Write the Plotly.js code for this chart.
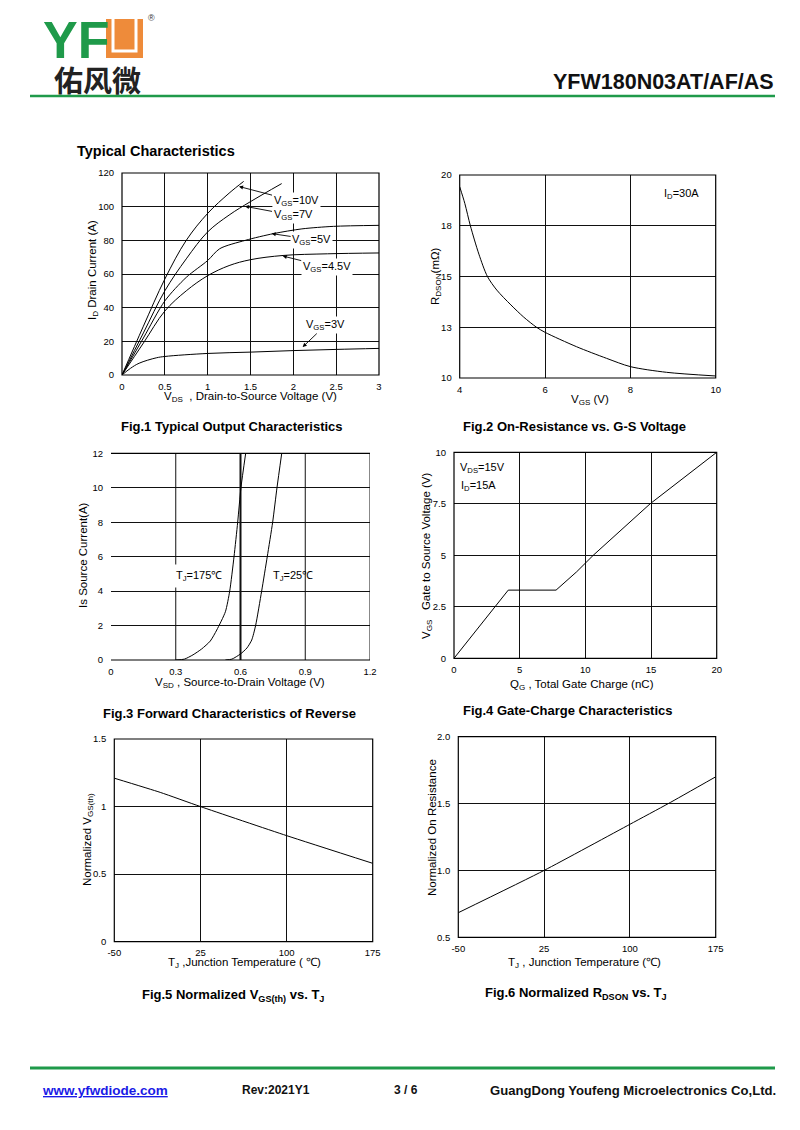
<!DOCTYPE html>
<html><head><meta charset="utf-8">
<script src="https://cdn.plot.ly/plotly-3.0.1.min.js"></script>
<style>html,body{margin:0;padding:0;background:#fff}#p{width:800px;height:1130px}</style>
</head><body><div id="p"></div>
<script>
// ---------- DATA ----------
// Fig.1 Output characteristics (VDS V, ID A)
const f1_v10_x=[0,0.25,0.5,0.75,1.0,1.25,1.42];
const f1_v10_y=[0,29,57,80,96,108,115];
const f1_v7_x=[0,0.25,0.5,0.75,1.0,1.25,1.5,1.864];
const f1_v7_y=[0,25,50,69,85,95,103,113.7];
const f1_v5_x=[0,0.25,0.5,0.75,1.0,1.14,1.44,1.77,2.1,2.47,3.0];
const f1_v5_y=[0,22,44,58,68,75,80,84,86.8,88.3,88.9];
const f1_v45_x=[0,0.25,0.5,0.75,1.0,1.25,1.5,1.88,2.4,3.0];
const f1_v45_y=[0,19,38,50,59,65,68.5,71,72,72.5];
const f1_v3_x=[0,0.1,0.2,0.4,0.5,1.0,1.5,2.0,2.5,3.0];
const f1_v3_y=[0,4,7,10.2,11,12.8,13.6,14.5,15.2,15.8];
const f1_xticks=[0,0.5,1,1.5,2,2.5,3];
const f1_yticks=[0,20,40,60,80,100,120];
// Fig.2 RDSON vs VGS (ID=30A)
const f2_x=[4,4.12,4.25,4.45,4.65,4.87,5.2,5.5,5.8,6,6.74,7.44,8,8.85,10];
const f2_y=[19.42,18.6,17.5,16.1,15,14.33,13.6,13.0,12.5,12.25,11.54,10.97,10.56,10.28,10.1];
const f2_xticks=[4,6,8,10];
const f2_yticks=[10,12.5,15,17.5,20];
const f2_ytext=['10','13','15','18','20'];
// Fig.3 Body diode forward characteristics
const f3_t175_x=[0.30,0.34,0.38,0.42,0.46,0.49,0.53,0.55,0.57,0.587,0.602,0.624];
const f3_t175_y=[0,0.05,0.3,0.64,1.1,1.74,2.8,4.0,6.0,8.0,10.0,12.0];
const f3_t25_x=[0.53,0.56,0.60,0.63,0.652,0.67,0.698,0.724,0.749,0.769,0.791];
const f3_t25_y=[0,0.05,0.35,0.7,1.16,2.0,4.0,6.0,8.0,10.0,12.0];
const f3_xticks=[0,0.3,0.6,0.9,1.2];
const f3_yticks=[0,2,4,6,8,10,12];
// Fig.4 Gate charge
const f4_x=[0,4.13,7.77,9.34,10.6,14.93,20];
const f4_y=[0,3.31,3.31,4.2,5,7.5,10];
const f4_xticks=[0,5,10,15,20];
const f4_yticks=[0,2.5,5,7.5,10];
// Fig.5 Normalized VGS(th) vs TJ
const f5_x=[-50,-10,25,100,175];
const f5_y=[1.21,1.105,1.0,0.785,0.58];
const f5_yticks=[0,0.5,1,1.5];
// Fig.6 Normalized RDSON vs TJ
const f6_x=[-50,25,100,133.6,175];
const f6_y=[0.684,1.0,1.345,1.5,1.70];
const f6_yticks=[0.5,1.0,1.5,2.0];
const tj_ticks=[-50,25,100,175];

// ---------- LAYOUT HELPERS ----------
const W=800,H=1130;
const fx=p=>p/W, fy=p=>1-p/H;
const FONT='Liberation Sans, Arial, sans-serif';
const tickF={family:FONT,size:9.5,color:'#000'};
function dom(x0,x1,y0,y1){return {x:[fx(x0),fx(x1)],y:[fy(y1),fy(y0)]};}
const D1=dom(122,379,173,375), D2=dom(459.7,715.7,175,378), D3=dom(111,370,453.3,660),
      D4=dom(454,716.7,452.3,658.3), D5=dom(114.3,372.7,739,941.7), D6=dom(458.3,715.7,736.7,937.3);
function xa(d,anchor,range,tv,tt,grid){return {domain:d.x,anchor:anchor,range:range,tickvals:tv,ticktext:tt,
  showgrid:grid!==false,gridcolor:'#111',gridwidth:1,zeroline:false,showline:false,ticks:'',
  tickfont:tickF,ticklabelstandoff:4,fixedrange:true};}
function ya(d,anchor,range,tv,tt){return {domain:d.y,anchor:anchor,range:range,tickvals:tv,ticktext:tt,
  showgrid:true,gridcolor:'#111',gridwidth:1,zeroline:false,showline:false,ticks:'',
  tickfont:tickF,ticklabelstandoff:7,fixedrange:true};}
function tr(x,y,xa_,ya_,smooth){return {x:x,y:y,xaxis:xa_,yaxis:ya_,mode:'lines',
  line:smooth?{color:'#000',width:1,shape:'spline',smoothing:smooth}:{color:'#000',width:1},
  hoverinfo:'skip',showlegend:false};}

const data=[
  tr(f1_v10_x,f1_v10_y,'x','y',1), tr(f1_v7_x,f1_v7_y,'x','y',1), tr(f1_v5_x,f1_v5_y,'x','y',0.8),
  tr(f1_v45_x,f1_v45_y,'x','y',1), tr(f1_v3_x,f1_v3_y,'x','y',1),
  tr(f2_x,f2_y,'x2','y2',0.8),
  tr(f3_t175_x,f3_t175_y,'x3','y3',0.6), tr(f3_t25_x,f3_t25_y,'x3','y3',0.6),
  tr(f4_x,f4_y,'x4','y4',0),
  tr(f5_x,f5_y,'x5','y5',0.5),
  tr(f6_x,f6_y,'x6','y6',0.5)
];

const shapes=[];
function frame(xr,yr){shapes.push({type:'rect',xref:xr+' domain',yref:yr+' domain',x0:0,x1:1,y0:0,y1:1,line:{color:'#000',width:1.2},layer:'above'});}
frame('x','y');frame('x2','y2');frame('x4','y4');frame('x5','y5');frame('x6','y6');
// Fig.3: top, bottom, right only (no left border)
shapes.push({type:'line',xref:'x3 domain',yref:'y3 domain',x0:0,x1:1,y0:1,y1:1,line:{color:'#000',width:1.2}});
shapes.push({type:'line',xref:'x3 domain',yref:'y3 domain',x0:0,x1:1,y0:0,y1:0,line:{color:'#000',width:1.2}});
f3_xticks.filter(v=>v>0).forEach(v=>shapes.push({type:'line',xref:'x3',yref:'y3 domain',x0:v,x1:v,y0:0,y1:1,line:{color:'#111',width:v===0.6?2:1},layer:'below'}));
// header / footer green rules
const GREEN='#1f9a4a', ORANGE='#ee8b3a';
shapes.push({type:'line',xref:'paper',yref:'paper',x0:fx(30),x1:fx(775),y0:fy(96),y1:fy(96),line:{color:GREEN,width:2.5}});
shapes.push({type:'line',xref:'paper',yref:'paper',x0:fx(30),x1:fx(775),y0:fy(1068),y1:fy(1068),line:{color:GREEN,width:3}});
// logo "U" block
shapes.push({type:'rect',xref:'paper',yref:'paper',x0:fx(106),x1:fx(143),y0:fy(58),y1:fy(19),fillcolor:ORANGE,line:{width:0}});
shapes.push({type:'path',xref:'paper',yref:'paper',
  path:`M ${fx(113)},${fy(19)} L ${fx(113)},${fy(51)} L ${fx(136)},${fy(51)} L ${fx(136)},${fy(19)}`,
  line:{color:'#fff',width:3}});

const ann=[];
function T(text,x,y,o){ann.push(Object.assign({text:text,xref:'paper',yref:'paper',x:fx(x),y:fy(y),showarrow:false,
  xanchor:'center',yanchor:'middle',font:{family:FONT,size:11,color:'#000'}},o||{}));}
// logo & header
T('YF',41,40,{xanchor:'left',height:42,valign:'middle',font:{family:FONT,size:52,color:GREEN,weight:'bold'}});
T('®',151,18,{font:{family:FONT,size:9,color:'#333'}});
T('佑风微',97,79,{height:34,valign:'middle',font:{family:'Noto Sans CJK SC',size:29,color:'#222',weight:'bold'}});
T('<b>YFW180N03AT/AF/AS</b>',776,82,{xanchor:'right',font:{family:FONT,size:21.5,color:'#111'}});
T('<b>Typical Characteristics</b>',75,151,{xanchor:'left',font:{family:FONT,size:14.5,color:'#000'}});
// captions
const CAP={family:FONT,size:13};
T('<b>Fig.1 Typical Output Characteristics</b>',232,426.5,{font:CAP});
T('<b>Fig.2 On-Resistance vs. G-S Voltage</b>',574,426.5,{font:CAP});
T('<b>Fig.3 Forward Characteristics of Reverse</b>',230,713,{font:CAP});
T('<b>Fig.4 Gate-Charge Characteristics</b>',568,710,{font:CAP});
T('<b>Fig.5 Normalized V<sub>GS(th)</sub> vs. T<sub>J</sub></b>',233,995,{font:CAP});
T('<b>Fig.6 Normalized R<sub>DSON</sub> vs. T<sub>J</sub></b>',576,993,{font:CAP});
// axis titles
const AX={family:FONT,size:11.5};
T('V<sub>DS</sub>  , Drain-to-Source Voltage (V)',251,397,{font:AX});
T('I<sub>D</sub> Drain Current (A)',93,270,{textangle:-90,font:AX});
T('V<sub>GS</sub> (V)',590,400,{font:AX});
T('R<sub>DSON</sub>(mΩ)',436,276,{textangle:-90,font:AX});
T('V<sub>SD</sub> , Source-to-Drain Voltage (V)',240,682.5,{font:AX});
T('Is Source Current(A)',83,555,{textangle:-90,font:AX});
T('Q<sub>G</sub> , Total Gate Charge (nC)',582,685,{font:AX});
T('V<sub>GS</sub>   Gate to Source Voltage (V)',427,555,{textangle:-90,font:AX});
T('T<sub>J</sub> ,Junction Temperature ( ℃)',244,963,{font:AX});
T('Normalized V<sub>GS(th)</sub>',88,840,{textangle:-90,font:AX});
T('T<sub>J</sub> , Junction Temperature (℃)',584,963,{font:AX});
T('Normalized On Resistance',432,828,{textangle:-90,font:AX});
// in-plot labels
T('I<sub>D</sub>=30A',681,194,{font:{family:FONT,size:11}});
T('V<sub>DS</sub>=15V',482,468,{font:{family:FONT,size:11}});
T('I<sub>D</sub>=15A',478,486,{font:{family:FONT,size:11}});
T('T<sub>J</sub>=175℃',199,576,{font:{family:FONT,size:11},bgcolor:'#fff',borderpad:4});
T('T<sub>J</sub>=25℃',293,576,{font:{family:FONT,size:11}});
// fig1 arrow labels
function A(text,x,y,ax,ay){ann.push({text:text,xref:'x',yref:'y',x:x,y:y,ax:ax,ay:ay,showarrow:true,arrowhead:2,
  arrowsize:0.9,arrowwidth:0.9,arrowcolor:'#000',standoff:0,bgcolor:'#fff',font:{family:FONT,size:11,color:'#000'}});}
A('V<sub>GS</sub>=10V',1.366,112,57,15);
A('V<sub>GS</sub>=7V',1.436,100.2,48,9);
A('V<sub>GS</sub>=5V',1.747,84,40,6);
A('V<sub>GS</sub>=4.5V',1.876,70.7,44,11);
A('V<sub>GS</sub>=3V',2.109,16.6,23,-22);
// footer
T('<b><u>www.yfwdiode.com</u></b>',40,1090,{xanchor:'left',font:{family:FONT,size:13.5,color:'#1a1ae6'}});
T('<b>Rev:2021Y1</b>',240,1090,{xanchor:'left',font:{family:FONT,size:12,color:'#111'}});
T('<b>3 / 6</b>',392,1090,{xanchor:'left',font:{family:FONT,size:12,color:'#111'}});
T('<b>GuangDong Youfeng Microelectronics Co,Ltd.</b>',488,1090,{xanchor:'left',font:{family:FONT,size:13.1,color:'#111'}});

const layout={width:W,height:H,margin:{l:0,r:0,t:0,b:0},paper_bgcolor:'#fff',plot_bgcolor:'#fff',showlegend:false,
  font:{family:FONT,color:'#000'},
  xaxis:xa(D1,'y',[0,3],f1_xticks,f1_xticks.map(String)),
  yaxis:ya(D1,'x',[0,120],f1_yticks,f1_yticks.map(String)),
  xaxis2:xa(D2,'y2',[4,10],f2_xticks,f2_xticks.map(String)),
  yaxis2:ya(D2,'x2',[10,20],f2_yticks,f2_ytext),
  xaxis3:xa(D3,'y3',[0,1.2],f3_xticks,f3_xticks.map(String),false),
  yaxis3:ya(D3,'x3',[0,12],f3_yticks,f3_yticks.map(String)),
  xaxis4:xa(D4,'y4',[0,20],f4_xticks,f4_xticks.map(String)),
  yaxis4:ya(D4,'x4',[0,10],f4_yticks,f4_yticks.map(String)),
  xaxis5:xa(D5,'y5',[-50,175],tj_ticks,tj_ticks.map(String)),
  yaxis5:ya(D5,'x5',[0,1.5],f5_yticks,f5_yticks.map(String)),
  xaxis6:xa(D6,'y6',[-50,175],tj_ticks,tj_ticks.map(String)),
  yaxis6:ya(D6,'x6',[0.5,2.0],f6_yticks,f6_yticks.map(v=>v.toFixed(1))),
  shapes:shapes, annotations:ann};
Plotly.newPlot('p',data,layout,{displayModeBar:false,staticPlot:true});
</script></body></html>
